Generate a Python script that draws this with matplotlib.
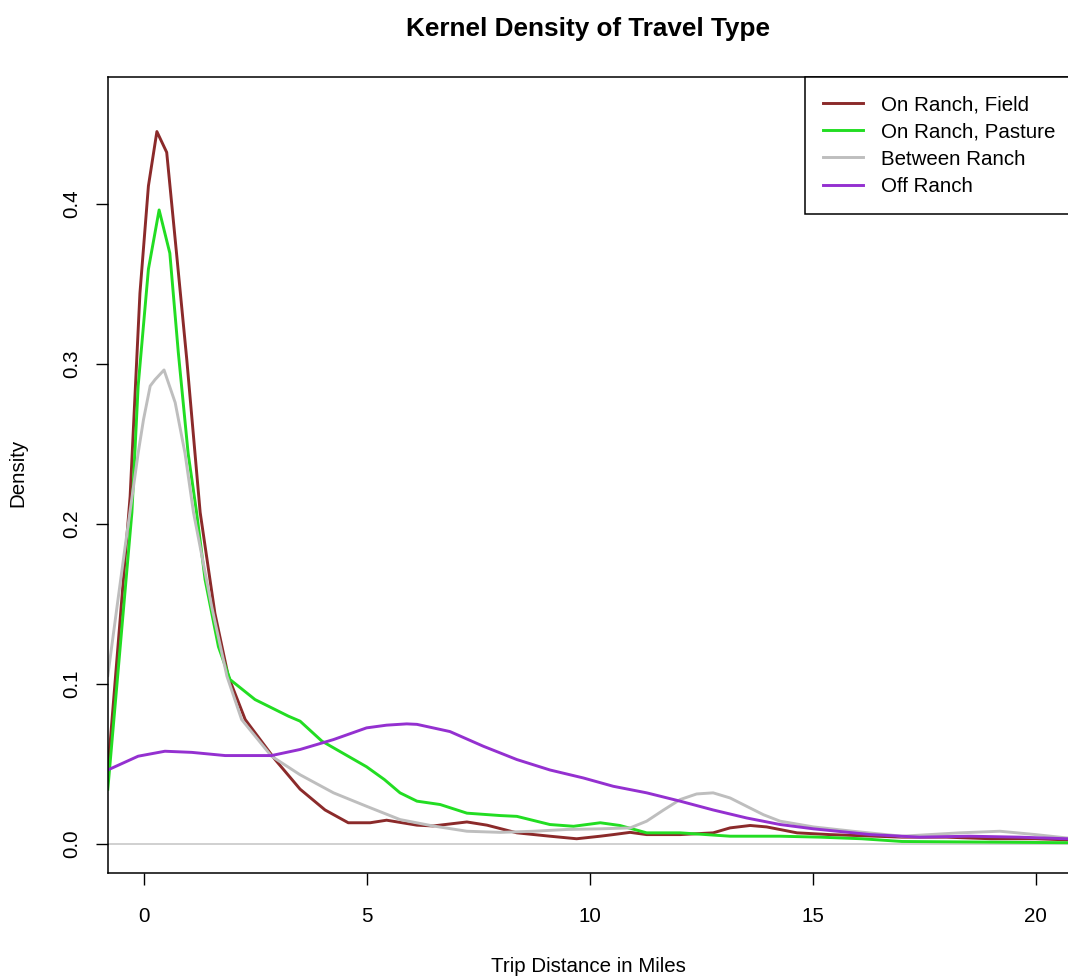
import matplotlib
matplotlib.use("Agg")
import matplotlib.pyplot as plt

plt.rcParams['font.family'] = ['Liberation Sans', 'DejaVu Sans']

# density curves (trip distance in miles, density)
field_x = [-0.8, -0.3, -0.08, 0.11, 0.3, 0.52, 0.74, 0.97, 1.27, 1.6, 1.9, 2.28, 2.95,
           3.51, 4.07, 4.59, 5.08, 5.45, 6.13, 6.49, 7.25, 7.7, 8.37, 9.11, 9.71, 10.24,
           10.53, 10.91, 11.28, 12.03, 12.77, 13.15, 13.6, 13.97, 14.65, 15.39, 16.0,
           17.0, 18.0, 19.0, 20.0, 21.0]
field_y = [0.045, 0.217, 0.344, 0.411, 0.445, 0.432, 0.369, 0.3025, 0.207, 0.144, 0.1046,
           0.0775, 0.0525, 0.034, 0.021, 0.013, 0.013, 0.0146, 0.0115, 0.011, 0.0135,
           0.0115, 0.0067, 0.0046, 0.003, 0.0046, 0.0056, 0.007, 0.0056, 0.0056, 0.0067,
           0.0098, 0.0113, 0.0104, 0.0067, 0.0056, 0.005, 0.004, 0.004, 0.003, 0.003,
           0.002]

pasture_x = [-0.8, -0.26, -0.12, 0.11, 0.35, 0.59, 0.78, 1.0, 1.19, 1.38, 1.68, 1.94,
             2.5, 3.25, 3.51, 4.0, 4.5, 5.0, 5.4, 5.75, 6.13, 6.65, 7.25, 8.0, 8.37, 9.11,
             9.64, 10.24, 10.68, 11.28, 12.03, 13.15, 14.27, 15.17, 16.1, 17.0, 18.5,
             20.4, 21.0]
pasture_y = [0.034, 0.207, 0.286, 0.359, 0.396, 0.369, 0.307, 0.244, 0.207, 0.165, 0.123,
             0.1025, 0.09, 0.0796, 0.0765, 0.064, 0.056, 0.048, 0.04, 0.0317, 0.0265,
             0.0244, 0.019, 0.0175, 0.017, 0.0119, 0.0108, 0.013, 0.0113, 0.0067, 0.0067,
             0.0046, 0.0046, 0.004, 0.003, 0.0013, 0.001, 0.0006, 0.0005]

between_x = [-0.8, -0.56, -0.41, -0.12, 0.0, 0.15, 0.26, 0.46, 0.71, 0.93, 1.12, 1.53,
             1.87, 2.2, 2.87, 3.51, 4.26, 5.0, 5.75, 6.49, 7.25, 8.0, 8.74, 9.49, 10.24,
             10.91, 11.28, 11.66, 12.03, 12.4, 12.77, 13.15, 13.52, 13.9, 14.27, 15.02,
             15.9, 17.0, 18.3, 19.2, 20.0, 20.7, 21.0]
between_y = [0.105, 0.155, 0.186, 0.244, 0.265, 0.286, 0.29, 0.296, 0.2756, 0.244, 0.207,
             0.148, 0.1046, 0.0775, 0.0546, 0.043, 0.0317, 0.0233, 0.015, 0.011, 0.0077,
             0.007, 0.0077, 0.0088, 0.0092, 0.0098, 0.014, 0.021, 0.0275, 0.031, 0.0317,
             0.0285, 0.0233, 0.018, 0.014, 0.0104, 0.0077, 0.0046, 0.0067, 0.0077,
             0.0056, 0.0035, 0.003]

off_x = [-0.8, -0.12, 0.48, 1.08, 1.83, 2.87, 3.51, 4.26, 5.0, 5.45, 5.9, 6.13, 6.87,
         7.62, 8.37, 9.11, 9.86, 10.53, 11.28, 12.03, 12.77, 13.52, 14.27, 15.02, 16.3,
         17.4, 18.5, 19.65, 20.7, 21.0]
off_y = [0.046, 0.0546, 0.0577, 0.057, 0.055, 0.055, 0.0588, 0.065, 0.0723, 0.074,
         0.0748, 0.0745, 0.070, 0.0608, 0.0525, 0.046, 0.041, 0.0358, 0.0317, 0.0265,
         0.021, 0.016, 0.0119, 0.0092, 0.0056, 0.004, 0.0046, 0.004, 0.003, 0.0028]

labels = ['On Ranch, Field', 'On Ranch, Pasture', 'Between Ranch', 'Off Ranch']
colors = ['#8B2A2A', '#22DD22', '#BEBEBE', '#9430D0']
x_ticks = [0, 5, 10, 15, 20]
y_ticks = [0.0, 0.1, 0.2, 0.3, 0.4]

W, H = 1068, 977
fig = plt.figure(figsize=(W / 100, H / 100), dpi=100)
# plot region ends just past the right edge of the picture, like the original
ax = fig.add_axes([108 / W, 104 / H, 962 / W, 796 / H])

series = [(field_x, field_y), (pasture_x, pasture_y),
          (between_x, between_y), (off_x, off_y)]
ax.axhline(0, color='#C8C8C8', lw=1.2, zorder=1)
for (xs, ys), lab, col in zip(series, labels, colors):
    ax.plot(xs, ys, color=col, lw=2.1, label=lab, zorder=2)

ax.set_xlim(-0.796, 20.77)
ax.set_ylim(-0.0184, 0.4791)
ax.set_xticks(x_ticks)
ax.set_xticklabels([str(t) for t in x_ticks])
ax.set_yticks(y_ticks)
ax.set_yticklabels([f'{t:.1f}' for t in y_ticks], rotation=90, va='center')
ax.tick_params(axis='both', length=8.6, width=1, labelsize=14.8, color='black')
ax.tick_params(axis='x', pad=15.8)
ax.tick_params(axis='y', pad=10.5)
for s in ax.spines.values():
    s.set_linewidth(1.1)

leg = ax.legend(loc='upper left', bbox_to_anchor=((805 - 108) / 962, 1.0),
                borderaxespad=0, fontsize=14.8, handlelength=1.95,
                handletextpad=0.85, labelspacing=0.4, borderpad=0.88,
                fancybox=False, framealpha=1, edgecolor='black')
leg.get_frame().set_linewidth(1.1)

fig.text(588 / W, 1 - 29 / H, 'Kernel Density of Travel Type', ha='center',
         va='center', fontsize=18.8, fontweight='bold')
fig.text(588 / W, 1 - 966 / H, 'Trip Distance in Miles', ha='center', va='center',
         fontsize=14.8)
fig.text(18 / W, 1 - 473 / H, 'Density', ha='center', va='center', rotation=90,
         fontsize=14.8)

fig.savefig('out.png', dpi=100)
